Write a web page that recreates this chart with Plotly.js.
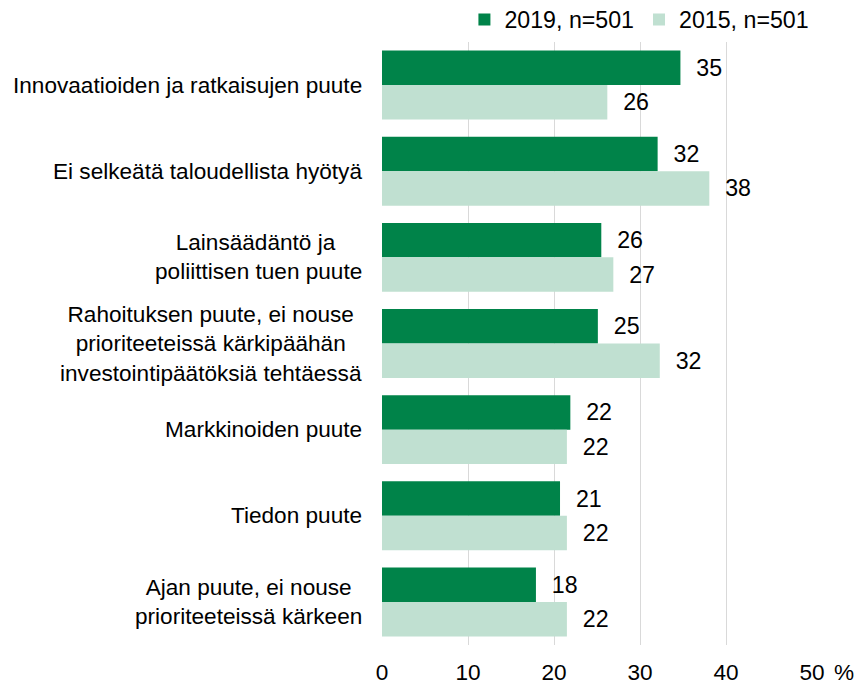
<!doctype html>
<html lang="fi"><head><meta charset="utf-8" />
<script src="https://cdn.plot.ly/plotly-3.0.1.min.js"></script>
<style>
  html, body { margin:0; padding:0; background:#fff; }
  #chart { width:860px; height:684px; }
</style></head>
<body>
<div id="chart"></div>
<script>
// kategoriat ylhäältä alas
const categories = [
  'Innovaatioiden ja ratkaisujen puute',
  'Ei selkeätä taloudellista hyötyä',
  'Lainsäädäntö ja <br>poliittisen tuen puute',
  'Rahoituksen puute, ei nouse<br>prioriteeteissä kärkipäähän<br>investointipäätöksiä tehtäessä',
  'Markkinoiden puute',
  'Tiedon puute',
  'Ajan puute, ei nouse<br>prioriteeteissä kärkeen',
];
const series2019 = [34.7, 32.05, 25.5, 25.1, 21.9, 20.7, 17.9];
const series2015 = [26.2, 38.06, 26.9, 32.3, 21.5, 21.5, 21.5];
const labels2019 = ['35', '32', '26', '25', '22', '21', '18'];
const labels2015 = ['26', '38', '27', '32', '22', '22', '22'];
const seriesNames = ['2019, n=501', '2015, n=501'];
const xTicks = [0, 10, 20, 30, 40, 50];

const FONT = 'Liberation Sans, Arial, sans-serif';
const FS = 22.6;
const FS_NUM = 23.2;
const DARK = '#008349';
const LIGHT = '#c0e0d1';
const pad = (s) => '\u00a0\u00a0' + s;

const bar = (name, x, txt, color) => ({
  type: 'bar', orientation: 'h', name,
  y: categories, x,
  text: txt.map(pad), textposition: 'outside', constraintext: 'none', cliponaxis: false,
  textfont: { family: FONT, size: FS_NUM, color: '#000' },
  marker: { color }, hoverinfo: 'x+name',
});

const traces = [
  bar(seriesNames[0], series2019, labels2019, DARK),
  bar(seriesNames[1], series2015, labels2015, LIGHT),
];

// kategorianimet keskitettyinä riveinä (annotaatiot)
const catNotes = categories.map((c) => ({
  xref: 'paper', x: 0, yref: 'y', y: c, text: c,
  xanchor: 'right', xshift: -18, align: 'center', showarrow: false,
  font: { family: FONT, size: FS, color: '#000' },
}));

const layout = {
  width: 860, height: 684,
  margin: { l: 382, r: 48, t: 42, b: 39, autoexpand: false },
  paper_bgcolor: '#fff', plot_bgcolor: '#fff',
  font: { family: FONT, size: FS, color: '#000' },
  barmode: 'group', bargap: 0.2, bargroupgap: 0,
  showlegend: true,
  legend: {
    orientation: 'h', xref: 'container', x: 0.947, xanchor: 'right',
    yref: 'container', y: 0.971, yanchor: 'middle',
    font: { family: FONT, size: FS_NUM, color: '#000' }, itemwidth: 30, traceorder: 'normal',
  },
  xaxis: {
    range: [0, 50], tickvals: xTicks, showgrid: true, gridcolor: '#d9d9d9', gridwidth: 1,
    zeroline: false, showline: false, ticks: '', ticklabelstandoff: 11,
    tickfont: { family: FONT, size: FS, color: '#000' }, fixedrange: true,
  },
  yaxis: {
    type: 'category', autorange: 'reversed', showticklabels: false, showgrid: false,
    zeroline: false, showline: false, ticks: '', fixedrange: true,
  },
  annotations: catNotes.concat([{
    xref: 'paper', x: 1, yref: 'paper', y: 0, text: '%', xanchor: 'left', yanchor: 'top',
    xshift: 20, yshift: -13, showarrow: false, font: { family: FONT, size: FS, color: '#000' },
  }]),
};

Plotly.newPlot('chart', traces, layout, { displayModeBar: false, staticPlot: true });
</script>
</body></html>
